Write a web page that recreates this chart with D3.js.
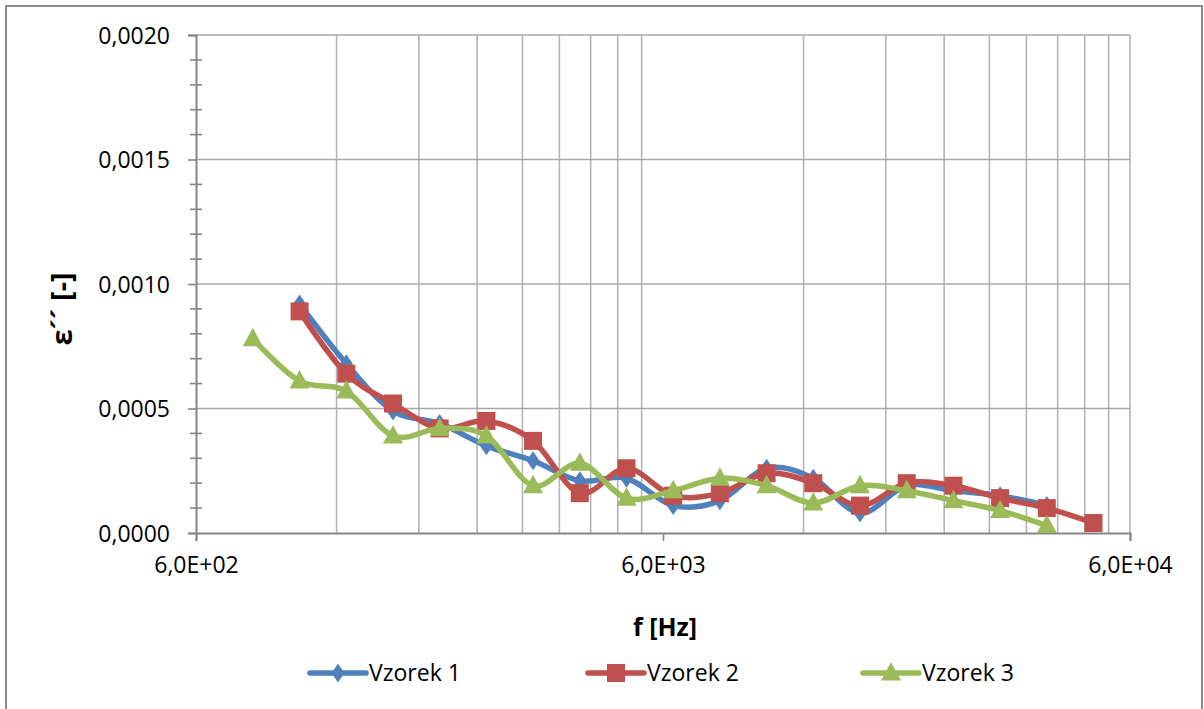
<!DOCTYPE html>
<html>
<head>
<meta charset="utf-8">
<script src="https://cdn.jsdelivr.net/npm/d3@7"></script>
<style>
  html, body { margin: 0; padding: 0; background: #fff; }
  svg { display: block; }
  text { font-family: "Open Sans", "Noto Sans", sans-serif; fill: #000; }
</style>
</head>
<body>
<svg id="chart" width="1204" height="709"></svg>
<script>
// Frequency points (Hz), 10 per decade
const freqHz = [794, 1000, 1259, 1585, 1995, 2512, 3162, 3981, 5012, 6310,
                7943, 10000, 12589, 15849, 19953, 25119, 31623, 39811, 50119];

// Dielectric loss ε'' per sample (null = not measured)
const vzorek1 = [null, 0.00092, 0.00068, 0.00049, 0.00044, 0.00035, 0.00029, 0.00021, 0.00022, 0.00011,
                 0.00013, 0.00026, 0.00022, 0.00008, 0.00019, 0.00017, 0.00015, 0.00011, null];
const vzorek2 = [null, 0.00089, 0.00064, 0.00052, 0.00042, 0.00045, 0.00037, 0.00016, 0.00026, 0.00015,
                 0.00016, 0.00024, 0.00020, 0.00011, 0.00020, 0.00019, 0.00014, 0.00010, 0.00004];
const vzorek3 = [0.00078, 0.00061, 0.00057, 0.00039, 0.00042, 0.00039, 0.00019, 0.00028, 0.00014, 0.00017,
                 0.00022, 0.00019, 0.00012, 0.00019, 0.00017, 0.00013, 0.00009, 0.00003, null];

const seriesNames = ["Vzorek 1", "Vzorek 2", "Vzorek 3"];
const seriesColors = ["#4F81BD", "#C0504D", "#9BBB59"];
const seriesMarkers = ["diamond", "square", "triangle"];

const xTickValues = [600, 6000, 60000];
const xTickLabels = ["6,0E+02", "6,0E+03", "6,0E+04"];
const yTickValues = [0, 0.0005, 0.001, 0.0015, 0.002];
const yTickLabels = ["0,0000", "0,0005", "0,0010", "0,0015", "0,0020"];

const svg = d3.select("#chart");

// outer chart border
svg.append("rect")
  .attr("x", 6).attr("y", 6).attr("width", 1196).attr("height", 720)
  .attr("fill", "#fff").attr("stroke", "#8c8c8c").attr("stroke-width", 2);

const plot = { left: 196, right: 1130, top: 35, bottom: 533 };

const x = d3.scaleLog().domain([600, 60000]).range([plot.left, plot.right]);
const y = d3.scaleLinear().domain([0, 0.002]).range([plot.bottom, plot.top]);

// vertical grid: every multiple of 600 / 6000 inside the range
const vGrid = [];
[600, 6000].forEach(base => { for (let k = 2; k <= 9; k++) vGrid.push(base * k); });
vGrid.push(60000);

const grid = svg.append("g");
grid.selectAll("line.v").data(vGrid).join("line")
  .attr("x1", d => x(d)).attr("x2", d => x(d))
  .attr("y1", plot.top).attr("y2", plot.bottom)
  .attr("stroke", "#b4b4b4").attr("stroke-width", 1.6);
grid.selectAll("line.h").data(yTickValues.filter(v => v > 0)).join("line")
  .attr("x1", plot.left).attr("x2", plot.right)
  .attr("y1", d => y(d)).attr("y2", d => y(d))
  .attr("stroke", "#a8a8a8").attr("stroke-width", 1.6);

// y axis with major labels and minor ticks
const yAxis = d3.axisLeft(y)
  .tickValues(yTickValues)
  .tickSize(8)
  .tickPadding(18)
  .tickFormat((d, i) => yTickLabels[i]);
const gy = svg.append("g").attr("transform", `translate(${plot.left},0)`).call(yAxis);
gy.select(".domain").attr("stroke", "#868686").attr("stroke-width", 2);
gy.selectAll(".tick line").attr("stroke", "#868686").attr("stroke-width", 1.6);
gy.selectAll(".tick text").style("font-size", "23px").style("font-family", "'Open Sans', sans-serif").attr("dy", "0.36em");

const minorY = d3.range(0, 0.00201, 0.0001).filter(v => Math.round(v * 10000) % 5 !== 0);
svg.append("g").selectAll("line").data(minorY).join("line")
  .attr("x1", plot.left - 6).attr("x2", plot.left + 6)
  .attr("y1", d => y(d)).attr("y2", d => y(d))
  .attr("stroke", "#868686").attr("stroke-width", 1.6);

// x axis
const xAxis = d3.axisBottom(x)
  .tickValues(xTickValues)
  .tickSize(8)
  .tickPadding(16)
  .tickFormat((d, i) => xTickLabels[i]);
const gx = svg.append("g").attr("transform", `translate(0,${plot.bottom})`).call(xAxis);
gx.select(".domain").attr("stroke", "#868686").attr("stroke-width", 2);
gx.selectAll(".tick line").attr("stroke", "#868686").attr("stroke-width", 1.6);
gx.selectAll(".tick text").style("font-size", "23px").style("font-family", "'Open Sans', sans-serif");

// axis titles
svg.append("text")
  .attr("x", 665).attr("y", 636)
  .attr("text-anchor", "middle")
  .style("font-size", "25px").style("font-weight", "bold")
  .text("f [Hz]");
svg.append("text")
  .attr("transform", "translate(72,309) rotate(-90)")
  .attr("text-anchor", "middle")
  .style("font-size", "29px").style("font-weight", "bold")
  .text("ε´´ [-]");

// marker shapes
function markerPath(type) {
  if (type === "diamond") return "M0,-9.5L6.5,0L0,9.5L-6.5,0Z";
  if (type === "square") return "M-9,-9H9V9H-9Z";
  return "M0,-11L10,7.5L-10,7.5Z";
}

const allSeries = [vzorek1, vzorek2, vzorek3];
const line = d3.line()
  .x(d => x(d.f)).y(d => y(d.v))
  .curve(d3.curveCatmullRom.alpha(0));

allSeries.forEach((vals, i) => {
  const pts = freqHz.map((f, j) => ({ f, v: vals[j] })).filter(d => d.v !== null);
  const g = svg.append("g");
  g.append("path").datum(pts)
    .attr("d", line)
    .attr("fill", "none")
    .attr("stroke", seriesColors[i])
    .attr("stroke-width", 5.5)
    .attr("stroke-linejoin", "round");
  g.selectAll("path.m").data(pts).join("path")
    .attr("class", "m")
    .attr("d", markerPath(seriesMarkers[i]))
    .attr("transform", d => `translate(${x(d.f)},${y(d.v)})`)
    .attr("fill", seriesColors[i]);
});

// legend
const legendX = [310, 588, 863];
const legendY = 673;
seriesNames.forEach((name, i) => {
  const g = svg.append("g").attr("transform", `translate(${legendX[i]},${legendY})`);
  g.append("line").attr("x1", 0).attr("x2", 56).attr("y1", 0).attr("y2", 0)
    .attr("stroke", seriesColors[i]).attr("stroke-width", 5.5).attr("stroke-linecap", "round");
  g.append("path").attr("d", markerPath(seriesMarkers[i]))
    .attr("transform", "translate(28,0)").attr("fill", seriesColors[i]);
  g.append("text").attr("x", 59).attr("y", 0).attr("dy", "0.36em")
    .style("font-size", "23px").text(name);
});
</script>
</body>
</html>
